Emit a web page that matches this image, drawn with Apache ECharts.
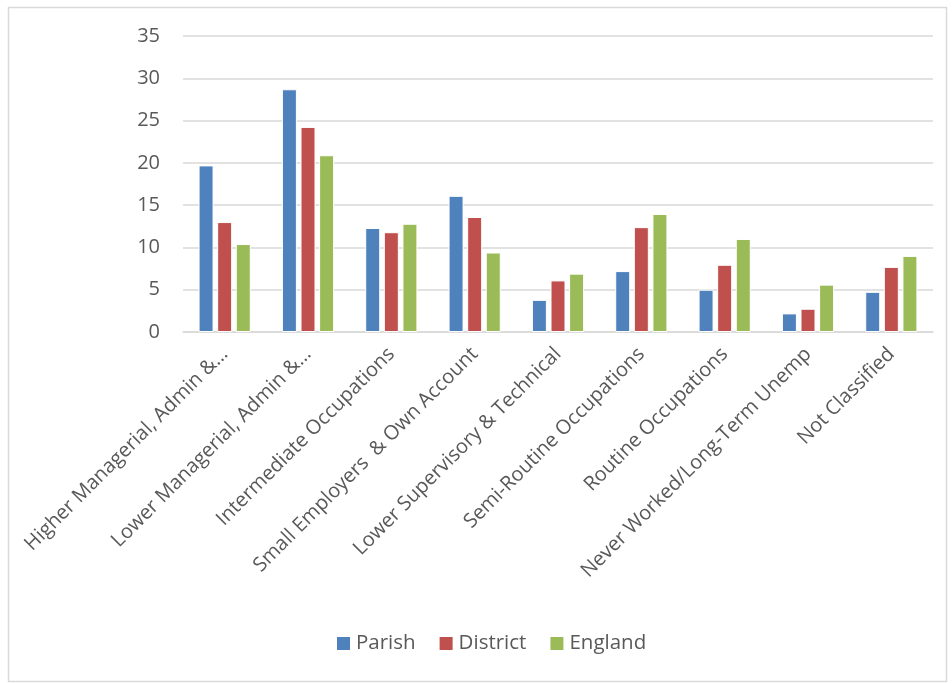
<!DOCTYPE html>
<html>
<head>
<meta charset="utf-8">
<script src="https://cdn.jsdelivr.net/npm/echarts@6/dist/echarts.min.js"></script>
<style>
  html, body { margin: 0; padding: 0; background: #fff; }
  #chart { width: 952px; height: 683px; }
</style>
</head>
<body>
<div id="chart"></div>
<script>
// Socio-economic classification: percentage of residents by category
const categories = [
  'Higher Managerial, Admin &…',
  'Lower Managerial, Admin &…',
  'Intermediate Occupations',
  'Small Employers  & Own Account',
  'Lower Supervisory & Technical',
  'Semi-Routine Occupations',
  'Routine Occupations',
  'Never Worked/Long-Term Unemp',
  'Not Classified'
];
const parish   = [19.7, 28.7, 12.3, 16.1, 3.8, 7.2, 5.0, 2.2, 4.75];
const district = [13.0, 24.25, 11.8, 13.6, 6.1, 12.4, 7.95, 2.75, 7.7];
const england  = [10.4, 20.9, 12.8, 9.4, 6.9, 13.95, 11.0, 5.6, 9.0];
const yTicks = { min: 0, max: 35, interval: 5 };

const FONT = 'Open Sans';
const TEXT = '#595959';

function barSeries(name, data, color) {
  return {
    name: name,
    type: 'bar',
    data: data,
    barWidth: 15,
    barGap: '24%',
    itemStyle: { color: color, borderColor: '#fff', borderWidth: 1 },
    emphasis: { disabled: true }
  };
}

const chart = echarts.init(document.getElementById('chart'), null, { renderer: 'canvas' });
chart.setOption({
  animation: false,
  backgroundColor: '#fff',
  textStyle: { fontFamily: FONT },
  graphic: [{
    type: 'rect',
    shape: { x: 8.5, y: 7.5, width: 938, height: 674 },
    style: { fill: 'none', stroke: '#d9d9d9', lineWidth: 1.5 },
    silent: true
  }],
  grid: { left: 183, right: 19, top: 36, bottom: 351, containLabel: false },
  legend: {
    bottom: 24,
    left: 330,
    itemWidth: 15,
    itemHeight: 15,
    itemGap: 22,
    icon: 'rect',
    textStyle: { fontFamily: FONT, fontSize: 20.5, color: TEXT },
    data: ['Parish', 'District', 'England']
  },
  xAxis: {
    type: 'category',
    data: categories,
    axisLine: { show: true, lineStyle: { color: '#d9d9d9', width: 1.5 } },
    axisTick: { show: false },
    axisLabel: {
      rotate: 45,
      interval: 0,
      margin: 19,
      fontFamily: FONT,
      fontSize: 20,
      color: TEXT
    }
  },
  yAxis: {
    type: 'value',
    min: yTicks.min,
    max: yTicks.max,
    interval: yTicks.interval,
    axisLine: { show: false },
    axisTick: { show: false },
    splitLine: { lineStyle: { color: '#d9d9d9', width: 1.5 } },
    axisLabel: { margin: 23, fontFamily: FONT, fontSize: 20, color: TEXT }
  },
  series: [
    barSeries('Parish', parish, '#4F81BD'),
    barSeries('District', district, '#C0504D'),
    barSeries('England', england, '#9BBB59')
  ]
});
</script>
</body>
</html>
